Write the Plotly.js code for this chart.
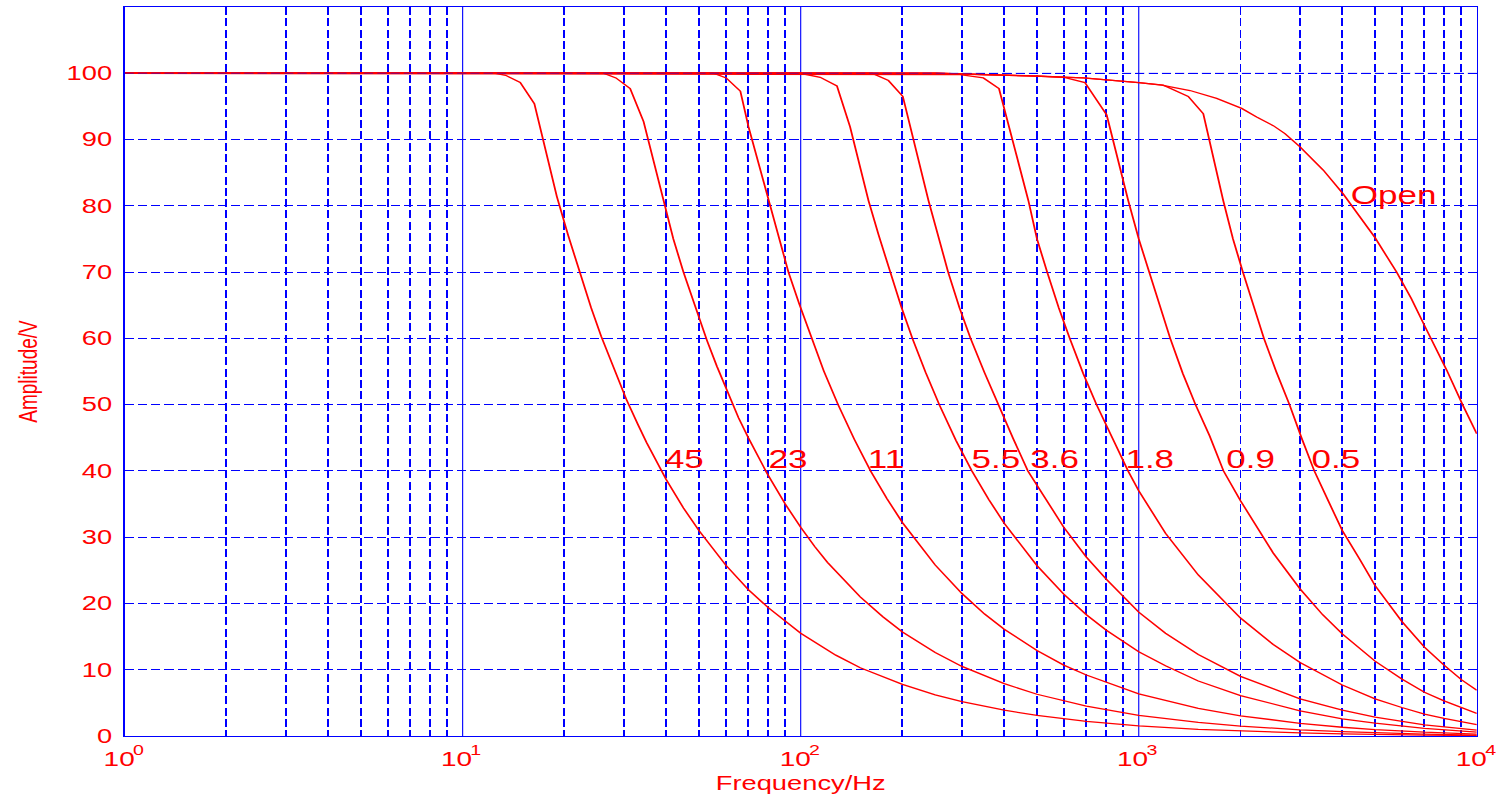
<!DOCTYPE html>
<html>
<head>
<meta charset="utf-8">
<script src="https://cdn.plot.ly/plotly-3.0.1.min.js"></script>
<style>
html,body{margin:0;padding:0;overflow:hidden;background:#fff;width:1502px;height:798px}
#wrap{width:1502px;height:798px;overflow:hidden;position:relative}
#chart{position:absolute;left:0;top:0;width:1073px;height:798px;transform:scale(1.39981,1);transform-origin:0 0}
</style>
</head>
<body>
<div id="wrap"><div id="chart"></div></div>
<script>
// ---- data ----
const f45 = [1, 12.5, 13.4, 14.8, 16.3, 19.0, 20.5, 22.2, 24, 25.7, 28, 30.5, 33, 35, 40, 45, 50, 55, 60, 70, 80, 100, 127, 150, 200, 250, 300, 400, 500, 700, 1000, 1500, 2000, 3000, 4000, 5000, 7000, 10000];
const v45 = [100, 100, 99.7, 98.6, 95.4, 81.4, 75.6, 69.8, 64.6, 60.3, 55.4, 50.8, 47.0, 44.3, 38.7, 34.4, 31.0, 28.2, 25.8, 22.1, 19.4, 15.5, 12.2, 10.3, 7.8, 6.2, 5.2, 3.9, 3.1, 2.2, 1.53, 1.0, 0.73, 0.46, 0.32, 0.23, 0.14, 0.07];

const f23 = [1, 26.1, 28.4, 31.3, 34.3, 39.3, 42, 45, 48.8, 52.8, 56.5, 61.2, 65.5, 70, 79.4, 90, 100, 110, 120, 150, 175, 200, 250, 300, 400, 500, 700, 1000, 1500, 2000, 3000, 4000, 5000, 7000, 10000];
const v23 = [100, 100, 99.3, 97.7, 92.7, 80.8, 75, 70, 64.6, 59.7, 55.8, 51.5, 48, 45, 39.7, 35, 31.5, 28.6, 26.2, 21, 18, 15.7, 12.6, 10.5, 7.9, 6.3, 4.5, 3.1, 2.04, 1.49, 0.93, 0.65, 0.47, 0.28, 0.14];

const f11 = [1, 55.2, 60.2, 66.3, 70.1, 80.3, 86, 92, 99, 107.5, 117, 129, 144, 161, 180, 200, 250, 300, 350, 400, 500, 600, 700, 1000, 1500, 2000, 3000, 4000, 5000, 7000, 10000];
const v11 = [100, 100, 99.3, 97.3, 91.9, 80.8, 75, 70, 65.2, 60, 55.1, 50, 44.8, 40, 35.8, 32.2, 25.8, 21.5, 18.4, 16.1, 12.9, 10.7, 9.2, 6.36, 4.17, 3.05, 1.91, 1.32, 0.97, 0.57, 0.29];

const f55 = [1, 99.7, 114.2, 128, 140, 158.7, 170, 183.6, 198, 214, 234, 257, 288, 321, 360, 400, 500, 600, 700, 800, 1000, 1200, 1500, 2000, 3000, 4000, 5000, 7000, 10000];
const v55 = [100, 100, 99.4, 98.1, 91.9, 80.8, 75.6, 70, 64.9, 60, 54.9, 50, 44.6, 40, 35.7, 32.1, 25.7, 21.4, 18.3, 16, 12.7, 10.6, 8.3, 6.1, 3.8, 2.6, 1.93, 1.14, 0.59];

const f36 = [1, 162.4, 181.8, 200.5, 238.8, 255, 273, 295, 318, 350, 384, 425, 470, 530, 600, 700, 800, 1000, 1200, 1500, 2000, 3000, 4000, 5000, 7000, 10000];
const v36 = [100, 100, 98.9, 96.5, 80.8, 75.5, 70, 64.6, 60, 54.8, 50, 44.9, 40, 35.8, 31.5, 27, 23.7, 18.7, 15.5, 12.3, 9.0, 5.6, 3.9, 2.86, 1.68, 0.87];

const f18 = [1, 296, 347, 386, 471.5, 500, 536, 580, 625, 685, 750, 840, 930, 1000, 1200, 1500, 2000, 2500, 3000, 4000, 5000, 6000, 7000, 8000, 9000, 10000];
const v18 = [100, 99.8, 99.3, 97.7, 80.8, 75, 70, 64.6, 60, 54.7, 50, 44.6, 40, 37, 30.6, 24.3, 17.8, 13.8, 11.1, 7.7, 5.6, 4.3, 3.3, 2.65, 2.1, 1.71];

const f09 = [1, 250, 500, 598, 693, 804, 931, 1000, 1074, 1150, 1239, 1350, 1472, 1620, 1781, 2000, 2500, 3000, 3500, 4000, 5000, 6000, 7000, 8000, 9000, 10000];
const v09 = [100, 100, 99.6, 99.4, 98.6, 93.7, 80.8, 75, 70, 65, 60, 54.7, 50, 45.3, 40, 35.5, 27.6, 22.2, 18.3, 15.4, 11.3, 8.6, 6.6, 5.3, 4.25, 3.4];

const f05 = [1, 250, 466, 685, 1000, 1182, 1401, 1552, 1778, 1900, 2033, 2180, 2346, 2550, 2792, 3030, 3306, 3650, 4000, 4500, 5000, 6000, 7000, 8000, 9000, 10000];
const v05 = [100, 100, 99.6, 99.3, 98.6, 98.2, 96.5, 93.9, 80.8, 75, 70, 65, 60, 55, 50, 45, 40, 35.3, 31, 26.7, 22.7, 17.3, 13.4, 10.7, 8.5, 6.9];

const fOpen = [1, 250, 466, 685, 1000, 1169, 1418, 1700, 2016, 2232, 2500, 2707, 3000, 3513, 4024, 4720, 5000, 5790, 6400, 7040, 8147, 9093, 10000];
const vOpen = [100, 100, 99.6, 99.3, 98.6, 98.2, 97.4, 96.2, 94.7, 93.4, 92.1, 90.9, 88.9, 85.4, 81.8, 77.1, 75.2, 70, 66.0, 61.7, 55.2, 49.9, 45.6];

const curveLabels = ['45', '23', '11', '5.5', '3.6', '1.8', '0.9', '0.5', 'Open'];
const labelFreq   = [39.0, 78.5, 155, 314, 468, 900, 1785, 3180, 4150];
const labelAmp    = [41.8, 41.8, 41.8, 41.8, 41.8, 41.8, 41.8, 41.8, 81.7];

const xTickBase = '10';
const xTickExps = [0, 1, 2, 3, 4];
const minorDigits = [2, 3, 4, 5, 6, 7, 8, 9];
const yTickVals = [0, 10, 20, 30, 40, 50, 60, 70, 80, 90, 100];

// ---- build ----
const series = [[f45, v45], [f23, v23], [f11, v11], [f55, v55], [f36, v36], [f18, v18], [f09, v09], [f05, v05], [fOpen, vOpen]];
const RED = '#ff0000', BLUE = '#0000ff';
const FONT = 'Liberation Sans, Arial, sans-serif';

const traces = series.map(([f, v], i) => ({
  type: 'scatter', mode: 'lines', x: f, y: v, name: curveLabels[i],
  line: {color: RED, width: 1.3}, hoverinfo: 'skip'
}));

const xTickVals = xTickExps.map(e => Math.pow(10, e));
const xMinorVals = [];
xTickVals.slice(0, -1).forEach(d => minorDigits.forEach(k => xMinorVals.push(d * k)));

const annotations = curveLabels.map((t, i) => ({
  x: Math.log10(labelFreq[i]), y: labelAmp[i], xref: 'x', yref: 'y',
  text: t, showarrow: false, xanchor: 'left', yanchor: 'middle',
  font: {size: 25, color: RED, family: FONT}
}));

// x tick labels: "10" with a raised exponent
xTickExps.forEach(e => {
  annotations.push({
    x: e, y: -0.0311, xref: 'x', yref: 'paper', text: xTickBase, showarrow: false,
    xanchor: 'center', yanchor: 'middle', xshift: -4.5,
    font: {size: 20, color: RED, family: FONT}
  });
  annotations.push({
    x: e, y: -0.0192, xref: 'x', yref: 'paper', text: String(e), showarrow: false,
    xanchor: 'left', yanchor: 'middle', xshift: 3.5,
    font: {size: 14, color: RED, family: FONT}
  });
});

const layout = {
  width: 1073, height: 798,
  margin: {l: 89, r: 18, t: 7, b: 62},
  paper_bgcolor: '#ffffff', plot_bgcolor: '#ffffff',
  showlegend: false,
  font: {family: FONT, color: RED},
  xaxis: {
    type: 'log', range: [0, 4], autorange: false,
    tickmode: 'array', tickvals: xTickVals, showticklabels: false,
    ticks: '', showgrid: true, gridcolor: BLUE, gridwidth: 0.8,
    minor: {tickmode: 'array', tickvals: xMinorVals, showgrid: true, gridcolor: BLUE, gridwidth: 1.4, griddash: '8px,3.3px', ticks: ''},
    showline: true, linecolor: BLUE, linewidth: 1, mirror: true, zeroline: false,
    title: {text: 'Frequency/Hz', font: {size: 19.5, color: RED}, standoff: 40}
  },
  yaxis: {
    range: [0, 110], autorange: false,
    tickmode: 'array', tickvals: yTickVals,
    ticks: '', showgrid: true, gridcolor: BLUE, gridwidth: 1.1, griddash: '6.6px,2.9px',
    showline: true, linecolor: BLUE, linewidth: 1, mirror: true, zeroline: false,
    tickfont: {size: 19.5, color: RED},
    ticklabelstandoff: 4,
    title: {text: 'Amplitude/V', font: {size: 19, color: RED}, standoff: 15}
  },
  shapes: [{
    type: 'line', xref: 'paper', x0: 0, x1: 1, yref: 'y',
    y0: yTickVals[yTickVals.length - 1], y1: yTickVals[yTickVals.length - 1],
    line: {color: 'rgba(0,0,255,0.5)', width: 1.1, dash: '6.6px,2.9px'}, layer: 'above'
  }],
  annotations: annotations
};

Plotly.newPlot('chart', traces, layout, {staticPlot: true, displayModeBar: false});
</script>
</body>
</html>
